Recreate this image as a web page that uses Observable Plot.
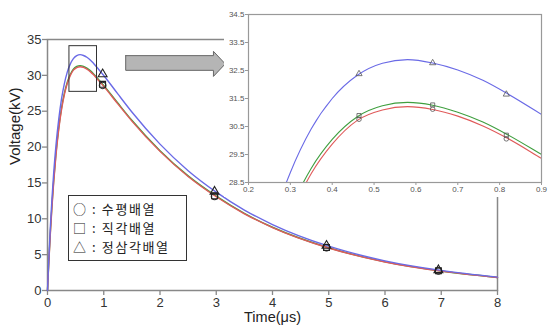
<!DOCTYPE html>
<html>
<head>
<meta charset="utf-8">
<script src="https://cdn.jsdelivr.net/npm/d3@7"></script>
<script src="https://cdn.jsdelivr.net/npm/@observablehq/plot@0.6"></script>
<style>
  html, body { margin: 0; padding: 0; background: white; }
  #wrap { position: relative; width: 556px; height: 330px; overflow: hidden; }
  #main, #inset { position: absolute; }
  #main { left: 0; top: 0; }
  #inset { left: 224px; top: 0; }
  #main svg g[aria-label^="x-axis"] line, #main svg g[aria-label^="x-axis"] path,
  #main svg g[aria-label^="y-axis"] line, #main svg g[aria-label^="y-axis"] path { stroke: #888; stroke-width: 1.3; }
  #inset svg g[aria-label^="x-axis"] line, #inset svg g[aria-label^="x-axis"] path,
  #inset svg g[aria-label^="y-axis"] line, #inset svg g[aria-label^="y-axis"] path { stroke: #999; }
  #legend {
    position: absolute; left: 68px; top: 195px; width: 119px; height: 66px;
    border: 1px solid #333; background: white;
    font-family: "Noto Sans CJK KR", sans-serif; font-size: 13px; color: #222;
    padding: 3px 0 0 4px; box-sizing: border-box; white-space: nowrap;
  }
  #legend div { height: 19px; line-height: 19px; letter-spacing: 1.6px; }
</style>
</head>
<body>
<div id="wrap">
  <div id="main"></div>
  <div id="inset"></div>
  <div id="legend"></div>
</div>
<script>
// ---- data ----
const time = [0, 0.02, 0.05, 0.08, 0.11, 0.15, 0.2, 0.25, 0.3, 0.35, 0.4, 0.46, 0.52, 0.58, 0.64, 0.7, 0.76, 0.82, 0.9, 1.0, 1.25, 1.5, 2, 2.5, 3, 3.5, 4, 5, 6, 7, 8];
// 정삼각배열 (triangle, blue)
const triV = [0, 3.8, 8.8, 12.9, 16.4, 20.2, 23.9, 26.75, 28.86, 30.42, 31.5, 32.33, 32.76, 32.89, 32.77, 32.52, 32.15, 31.66, 30.93, 29.98, 27.41, 24.89, 20.41, 16.71, 13.72, 11.22, 9.2, 6.18, 4.14, 2.8, 1.86];
// 직각배열 (square, green)
const sqV = [0, 3.5, 8.1, 12.0, 15.34, 19.07, 22.72, 25.48, 27.52, 29.01, 30.04, 30.85, 31.24, 31.36, 31.26, 31.01, 30.66, 30.2, 29.5, 28.6, 26.14, 23.73, 19.5, 15.98, 13.15, 10.75, 8.82, 5.96, 4.0, 2.72, 1.82];
// 수평배열 (circle, red)
const cirV = [0, 3.3, 7.8, 11.7, 15.05, 18.8, 22.45, 25.25, 27.3, 28.82, 29.87, 30.72, 31.09, 31.21, 31.11, 30.87, 30.52, 30.07, 29.36, 28.46, 26.02, 23.62, 19.4, 15.9, 13.07, 10.7, 8.78, 5.93, 3.98, 2.7, 1.81];

// markers on the main chart
const mainMarkT = [0.98, 2.97, 4.96, 6.95];
const mainMarkTri = [30.17, 13.8, 6.25, 2.85];
const mainMarkSq = [28.75, 13.2, 6.0, 2.75];
const mainMarkCir = [28.6, 13.12, 5.97, 2.72];

// markers on the zoomed inset
const insetMarkT = [0.464, 0.64, 0.816];
const insetMarkTri = [32.38, 32.77, 31.65];
const insetMarkSq = [30.89, 31.27, 30.19];
const insetMarkCir = [30.76, 31.12, 30.06];

const seriesNames = ["수평배열", "직각배열", "정삼각배열"];
const legendSymbols = ["○", "□", "△"];
const seriesColors = {"수평배열": "#e05a5a", "직각배열": "#3f9f3f", "정삼각배열": "#6a6ae6"};

const xTicksMain = [0, 1, 2, 3, 4, 5, 6, 7, 8];
const yTicksMain = [0, 5, 10, 15, 20, 25, 30, 35];
const xTicksInset = [0.2, 0.3, 0.4, 0.5, 0.6, 0.7, 0.8, 0.9];
const yTicksInset = [28.5, 29.5, 30.5, 31.5, 32.5, 33.5, 34.5];

// zoom box and block arrow (data coordinates of annotation)
const zoomBox = [{x1: 0.39, x2: 0.88, y1: 27.7, y2: 34.07}];
const arrowX = [1.39, 2.95, 2.95, 3.16, 2.95, 2.95, 1.39, 1.39];
const arrowY = [32.75, 32.75, 33.35, 31.6, 29.85, 30.7, 30.7, 32.75];

// ---- build tables (drawing order: green, red, blue) ----
const lines = [];
[[sqV, "직각배열"], [cirV, "수평배열"], [triV, "정삼각배열"]].forEach(([vals, name]) => {
  time.forEach((t, i) => lines.push({t, v: vals[i], s: name}));
});
function markTable(ts, cir, sq, tri) {
  const out = [];
  ts.forEach((t, i) => {
    out.push({t, v: cir[i], sym: "circle", s: "수평배열"});
    out.push({t, v: sq[i], sym: "square", s: "직각배열"});
    out.push({t, v: tri[i], sym: "triangle", s: "정삼각배열"});
  });
  return out;
}
const mainMarks = markTable(mainMarkT, mainMarkCir, mainMarkSq, mainMarkTri);
const insetMarks = markTable(insetMarkT, insetMarkCir, insetMarkSq, insetMarkTri);
const arrow = arrowX.map((x, i) => ({x, y: arrowY[i]}));

const colorScale = {domain: seriesNames, range: seriesNames.map(n => seriesColors[n])};

// ---- main chart ----
const main = Plot.plot({
  width: 556, height: 330,
  marginLeft: 47, marginRight: 59, marginTop: 39, marginBottom: 40,
  style: {fontFamily: "'Liberation Sans', Arial, sans-serif", fontSize: "13px", color: "#333", background: "white", overflow: "visible"},
  x: {domain: [0, 8], ticks: xTicksMain, tickSize: 5, tickPadding: 2, label: null},
  y: {domain: [0, 35], ticks: yTicksMain, tickSize: 5, tickPadding: 1, label: null},
  color: colorScale,
  symbol: {domain: ["circle", "square", "triangle"], range: ["circle", "square", "triangle"]},
  marks: [
    Plot.frame({stroke: "#888", strokeWidth: 1.5}),
    Plot.line(lines, {x: "t", y: "v", z: "s", stroke: "s", strokeWidth: 1.4, curve: "monotone-x"}),
    Plot.dot(mainMarks, {x: "t", y: "v", symbol: "sym", r: 3.3, stroke: "#222", strokeWidth: 1.1, fill: "none"}),
    Plot.rect(zoomBox, {x1: "x1", x2: "x2", y1: "y1", y2: "y2", fill: "none", stroke: "#333", strokeWidth: 1}),
    Plot.line(arrow, {x: "x", y: "y", fill: "#b5b5b5", stroke: "#666", strokeWidth: 1}),
    Plot.text(["Time(μs)"], {frameAnchor: "bottom", dy: 31, fontSize: 14.5, fill: "#222"}),
    Plot.text(["Voltage(kV)"], {frameAnchor: "left", dx: -32, rotate: -90, fontSize: 15, fill: "#222"})
  ]
});
document.getElementById("main").append(main);

// ---- inset (zoomed) chart ----
const inset = Plot.plot({
  width: 332, height: 197,
  marginLeft: 24, marginRight: 332 - (541 - 224), marginTop: 14, marginBottom: 197 - 182,
  style: {fontFamily: "'Liberation Sans', Arial, sans-serif", fontSize: "8px", color: "#555", background: "white", overflow: "visible"},
  x: {domain: [0.2, 0.9], ticks: xTicksInset, tickFormat: d3.format(".1f"), tickSize: 3, tickPadding: 1, label: null},
  y: {domain: [28.5, 34.5], ticks: yTicksInset, tickFormat: d3.format(".1f"), tickSize: 3, tickPadding: 1, label: null},
  color: colorScale,
  symbol: {domain: ["circle", "square", "triangle"], range: ["circle", "square", "triangle"]},
  marks: [
    Plot.line(lines, {x: "t", y: "v", z: "s", stroke: "s", strokeWidth: 1.1, curve: "monotone-x", clip: true}),
    Plot.dot(insetMarks, {x: "t", y: "v", symbol: "sym", r: 2.3, stroke: "#555", strokeWidth: 0.8, fill: "none"}),
    Plot.frame({stroke: "#999", strokeWidth: 1.2})
  ]
});
document.getElementById("inset").append(inset);

// ---- legend ----
const legend = document.getElementById("legend");
seriesNames.forEach((n, i) => {
  const row = document.createElement("div");
  row.textContent = legendSymbols[i] + " : " + n;
  legend.append(row);
});
</script>
</body>
</html>
